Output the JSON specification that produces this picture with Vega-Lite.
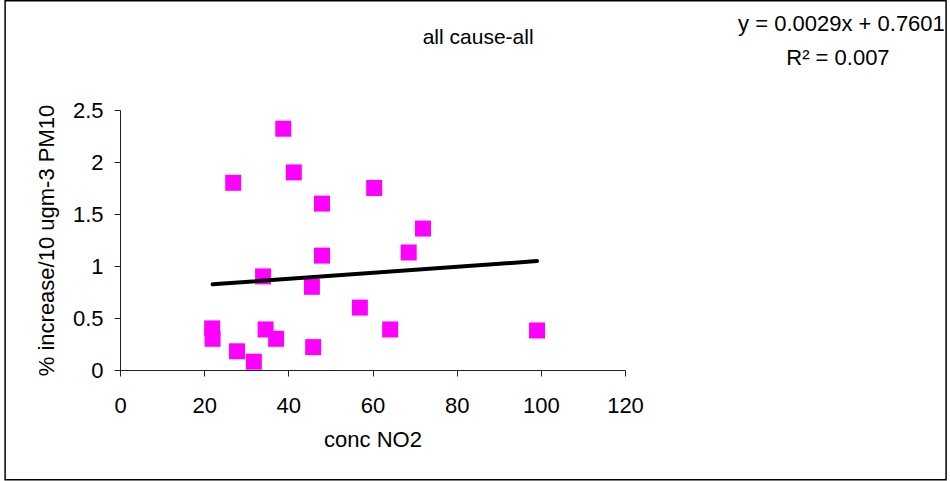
{
  "$schema": "https://vega.github.io/schema/vega-lite/v6.json",
  "width": 505,
  "height": 260,
  "autosize": "none",
  "padding": {"left": 120, "top": 110, "right": 325, "bottom": 111},
  "background": "white",
  "config": {
    "view": {"stroke": null},
    "font": "Liberation Sans",
    "axis": {"grid": false, "domainColor": "#222", "tickColor": "#222", "labelColor": "#000", "titleColor": "#000", "labelFont": "Liberation Sans", "titleFont": "Liberation Sans", "labelFontSize": 22, "titleFontSize": 22, "titleFontWeight": "normal", "tickSize": 6, "labelFlush": false}
  },
  "datasets": {
    "pts": [
      {"no2": 38.8, "pm": 2.32},
      {"no2": 26.9, "pm": 1.80},
      {"no2": 41.3, "pm": 1.90},
      {"no2": 60.4, "pm": 1.75},
      {"no2": 48.0, "pm": 1.60},
      {"no2": 72.0, "pm": 1.36},
      {"no2": 48.0, "pm": 1.10},
      {"no2": 68.6, "pm": 1.13},
      {"no2": 34.0, "pm": 0.90},
      {"no2": 45.6, "pm": 0.80},
      {"no2": 57.0, "pm": 0.60},
      {"no2": 21.9, "pm": 0.40},
      {"no2": 22.0, "pm": 0.30},
      {"no2": 34.6, "pm": 0.39},
      {"no2": 37.1, "pm": 0.30},
      {"no2": 64.2, "pm": 0.39},
      {"no2": 27.8, "pm": 0.18},
      {"no2": 31.8, "pm": 0.08},
      {"no2": 45.9, "pm": 0.22},
      {"no2": 99.1, "pm": 0.38}
    ],
    "trend": [
      {"no2": 22.0, "pm": 0.824},
      {"no2": 99.1, "pm": 1.047}
    ],
    "one": [{"label": ""}]
  },
  "layer": [
    {
      "data": {"name": "one"},
      "mark": {"type": "rect", "fill": null, "stroke": "#000", "strokeWidth": 1.5, "clip": false},
      "encoding": {
        "x": {"datum": -27.3, "type": "quantitative"},
        "x2": {"datum": 196.3},
        "y": {"datum": -1.055, "type": "quantitative"},
        "y2": {"datum": 3.55}
      }
    },
    {
      "data": {"name": "pts"},
      "mark": {"type": "square", "size": 256, "color": "#FF00FF", "opacity": 1, "filled": true},
      "encoding": {
        "x": {"field": "no2", "type": "quantitative", "scale": {"domain": [0, 120], "nice": false}, "axis": {"values": [0, 20, 40, 60, 80, 100, 120], "title": "conc NO2", "labelPadding": 19, "titlePadding": 13}},
        "y": {"field": "pm", "type": "quantitative", "scale": {"domain": [0, 2.5], "nice": false}, "axis": {"values": [0, 0.5, 1, 1.5, 2, 2.5], "format": "~g", "title": "% increase/10 ugm-3 PM10", "labelPadding": 11, "titlePadding": 14}}
      }
    },
    {
      "data": {"name": "trend"},
      "mark": {"type": "line", "color": "#000", "strokeWidth": 4, "strokeCap": "round"},
      "encoding": {
        "x": {"field": "no2", "type": "quantitative"},
        "y": {"field": "pm", "type": "quantitative"}
      }
    },
    {
      "data": {"name": "one"},
      "mark": {"type": "text", "text": "all cause-all", "align": "center", "baseline": "middle", "fontSize": 21, "color": "#000", "clip": false},
      "encoding": {
        "x": {"datum": 85.1, "type": "quantitative"},
        "y": {"datum": 3.192, "type": "quantitative"}
      }
    },
    {
      "data": {"name": "one"},
      "mark": {"type": "text", "text": "y = 0.0029x + 0.7601", "align": "right", "baseline": "middle", "fontSize": 22, "color": "#000", "clip": false},
      "encoding": {
        "x": {"datum": 196.0, "type": "quantitative"},
        "y": {"datum": 3.33, "type": "quantitative"}
      }
    },
    {
      "data": {"name": "one"},
      "mark": {"type": "text", "text": "R² = 0.007", "align": "center", "baseline": "middle", "fontSize": 22, "color": "#000", "clip": false},
      "encoding": {
        "x": {"datum": 170.6, "type": "quantitative"},
        "y": {"datum": 3.0, "type": "quantitative"}
      }
    }
  ]
}
